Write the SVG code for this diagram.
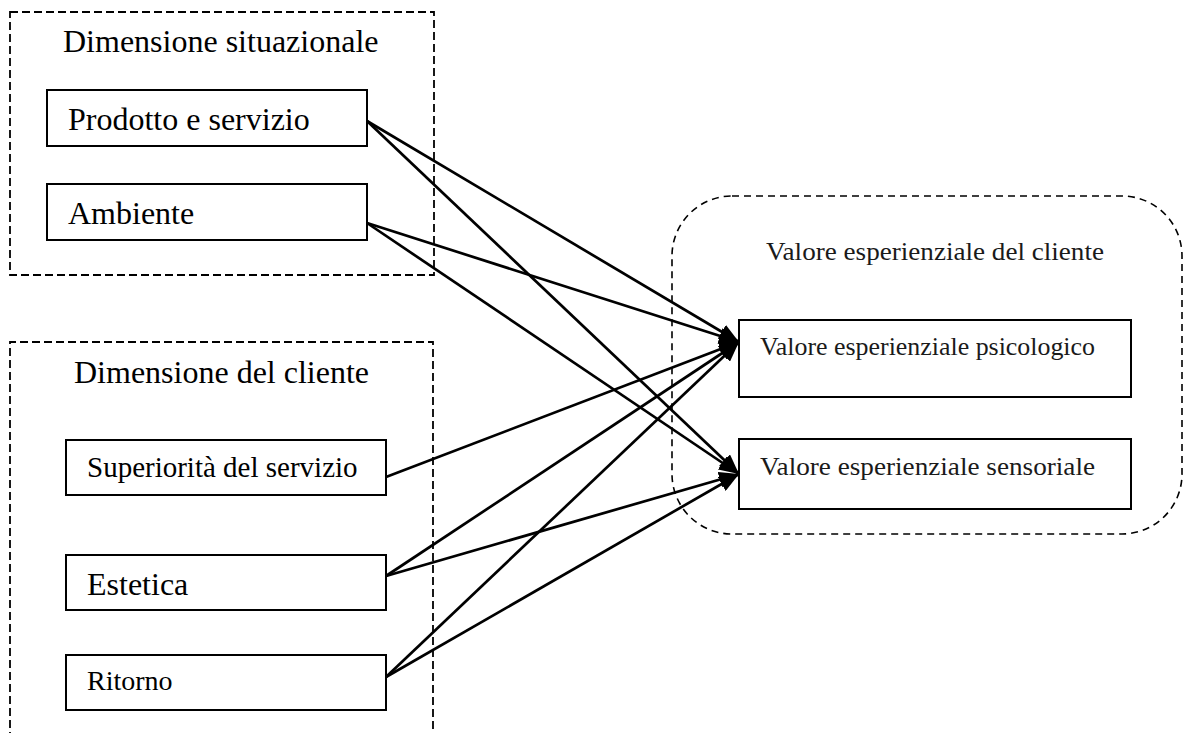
<svg xmlns="http://www.w3.org/2000/svg" width="1197" height="733" viewBox="0 0 1197 733">
  <style>
    .frame { fill: none; stroke: #000; stroke-width: 1.8; stroke-dasharray: 8 4; }
    .frame-round { fill: none; stroke: #000; stroke-width: 1.6; stroke-dasharray: 7 5; }
    .box { fill: #fff; stroke: #000; stroke-width: 2; }
    .lbl { font-family: "Liberation Serif", "Times New Roman", serif; fill: #000; }
    .gar { font-family: "Liberation Serif", "Times New Roman", serif; fill: #1a1a1a; font-size: 26px; }
    .link { fill: none; stroke: #000; stroke-width: 2.7; marker-end: url(#head); }
  </style>
  <defs>
    <marker id="head" markerUnits="userSpaceOnUse" markerWidth="20" markerHeight="16" refX="20" refY="8" orient="auto">
      <path d="M0,0 L20,8 L0,16 z" fill="#000"/>
    </marker>
  </defs>
  <rect width="1197" height="733" fill="#fff"/>

  <!-- grouping frames -->
  <g id="situational-frame">
    <rect class="frame" x="10" y="12" width="424" height="263"/>
    <text class="lbl" x="63" y="52" font-size="32">Dimensione situazionale</text>
  </g>
  <g id="customer-frame">
    <path class="frame" d="M10,740 V342 H433 V740"/>
    <text class="lbl" x="74" y="383" font-size="32">Dimensione del cliente</text>
  </g>
  <g id="value-frame">
    <rect class="frame-round" x="672" y="196" width="510" height="338" rx="60" ry="60"/>
    <text class="gar" x="766" y="260" textLength="338" lengthAdjust="spacingAndGlyphs">Valore esperienziale del cliente</text>
  </g>

  <!-- connectors -->
  <g id="connectors">
    <line class="link" x1="367" y1="121" x2="739" y2="342"/>
    <line class="link" x1="367" y1="121" x2="739" y2="474"/>
    <line class="link" x1="367" y1="223" x2="739" y2="342"/>
    <line class="link" x1="367" y1="223" x2="739" y2="474"/>
    <line class="link" x1="386" y1="477" x2="739" y2="342"/>
    <line class="link" x1="386" y1="576" x2="739" y2="342"/>
    <line class="link" x1="386" y1="576" x2="739" y2="474"/>
    <line class="link" x1="386" y1="677" x2="739" y2="342"/>
    <line class="link" x1="386" y1="677" x2="739" y2="474"/>
  </g>

  <!-- source nodes -->
  <g id="node-prodotto">
    <rect class="box" x="47" y="90" width="320" height="56"/>
    <text class="lbl" x="68" y="130" font-size="32">Prodotto e servizio</text>
  </g>
  <g id="node-ambiente">
    <rect class="box" x="47" y="184" width="320" height="56"/>
    <text class="lbl" x="68" y="224" font-size="32">Ambiente</text>
  </g>
  <g id="node-superiorita">
    <rect class="box" x="66" y="440" width="320" height="55"/>
    <text class="lbl" x="87" y="477" font-size="29">Superiorità del servizio</text>
  </g>
  <g id="node-estetica">
    <rect class="box" x="66" y="555" width="320" height="55"/>
    <text class="lbl" x="87" y="595" font-size="32">Estetica</text>
  </g>
  <g id="node-ritorno">
    <rect class="box" x="66" y="655" width="320" height="55"/>
    <text class="lbl" x="87" y="690" font-size="28">Ritorno</text>
  </g>

  <!-- target nodes -->
  <g id="node-psicologico">
    <rect class="box" x="739" y="320" width="392" height="77"/>
    <text class="gar" x="760" y="355" textLength="335" lengthAdjust="spacingAndGlyphs">Valore esperienziale psicologico</text>
  </g>
  <g id="node-sensoriale">
    <rect class="box" x="739" y="439" width="392" height="70"/>
    <text class="gar" x="760" y="475" textLength="335" lengthAdjust="spacingAndGlyphs">Valore esperienziale sensoriale</text>
  </g>
</svg>
